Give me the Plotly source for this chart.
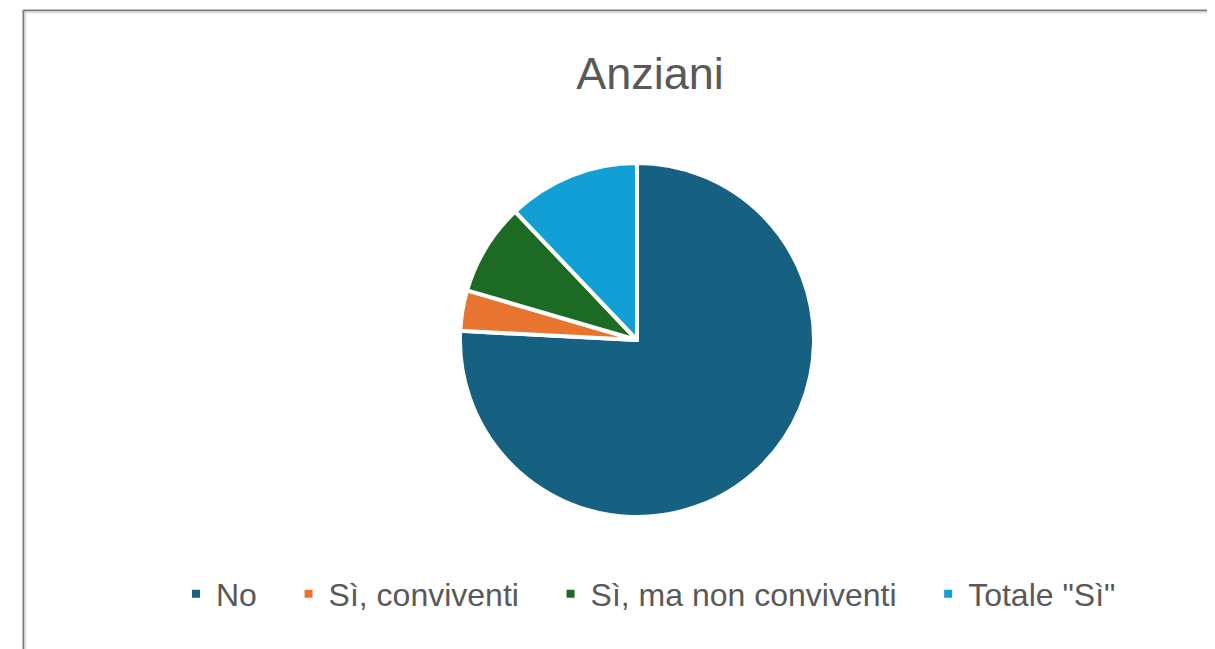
import plotly.graph_objects as go

# figure sits at an 8px page offset; size it to fill the 1215x649 window
OFF = 8
W, H = 1215 - OFF, 649 - OFF

labels = ["No", "Sì, conviventi", "Sì, ma non conviventi", 'Totale "Sì"']
values = [75.9, 3.7, 8.4, 12.1]
colors = ["#166082", "#E8752F", "#1C6A24", "#129FD6"]
title_text = "Anziani"

PAD = "\u00a0" * 3  # extra legend spacing between entries
legend_labels = [lab + PAD for lab in labels]


def px(x):
    return (x - OFF) / W


def py(y):
    return 1 - (y - OFF) / H


cx, cy, r = 637, 340, 177

fig = go.Figure(go.Pie(
    labels=legend_labels,
    values=values,
    sort=False,
    direction="clockwise",
    rotation=0,
    textinfo="none",
    hoverinfo="label+value",
    marker=dict(colors=colors, line=dict(color="white", width=4)),
    domain=dict(x=[px(cx - r), px(cx + r)], y=[py(cy + r), py(cy - r)]),
))

font_fam = "Liberation Sans, Arial, sans-serif"

fig.update_layout(
    width=W, height=H,
    margin=dict(l=0, r=0, t=0, b=0),
    paper_bgcolor="white",
    plot_bgcolor="white",
    title=dict(text=title_text, x=px(650), xanchor="center", y=py(73), yanchor="middle",
               font=dict(family=font_fam, size=45, color="#595959")),
    showlegend=True,
    legend=dict(orientation="h", x=px(662), xanchor="center", y=py(594), yanchor="middle",
                font=dict(family=font_fam, size=32, color="#595959")),
    shapes=[
        dict(type="line", xref="paper", yref="paper", x0=px(23.5), x1=1.01, y0=py(10.5), y1=py(10.5),
             line=dict(color="#7a7a7a", width=2)),
        dict(type="line", xref="paper", yref="paper", x0=px(25.5), x1=1.01, y0=py(12.5), y1=py(12.5),
             line=dict(color="#e3e3e3", width=2)),
        dict(type="line", xref="paper", yref="paper", x0=px(23.5), x1=px(23.5), y0=-0.01, y1=py(10),
             line=dict(color="#7a7a7a", width=2)),
        dict(type="line", xref="paper", yref="paper", x0=px(25.5), x1=px(25.5), y0=-0.01, y1=py(12),
             line=dict(color="#e3e3e3", width=2)),
    ],
)

fig.write_html("out.html")
